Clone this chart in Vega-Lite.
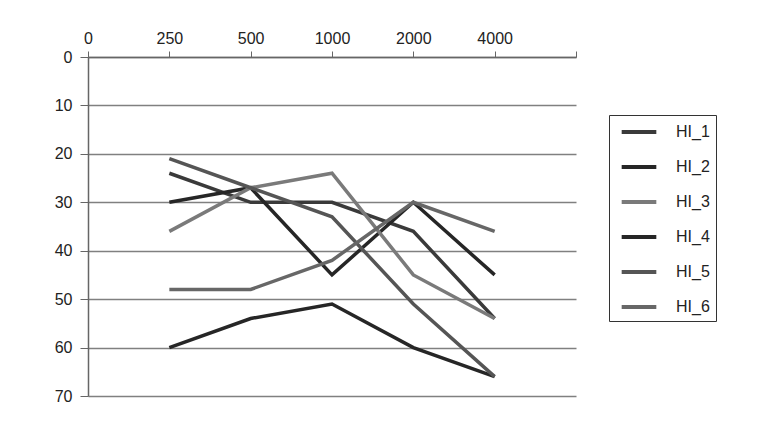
{
  "$schema": "https://vega.github.io/schema/vega-lite/v6.json",
  "width": 488,
  "height": 339,
  "autosize": "none",
  "padding": {"left": 88, "top": 57, "right": 192, "bottom": 36},
  "background": "white",
  "config": {
    "view": {"stroke": null},
    "font": "Liberation Sans",
    "axis": {"labelFont": "Liberation Sans", "labelFontSize": 16, "labelColor": "#222"}
  },
  "data": {
    "values": [
      {"s": "HI_1", "i": 1, "v": 24}, {"s": "HI_1", "i": 2, "v": 30}, {"s": "HI_1", "i": 3, "v": 30}, {"s": "HI_1", "i": 4, "v": 36}, {"s": "HI_1", "i": 5, "v": 54},
      {"s": "HI_2", "i": 1, "v": 30}, {"s": "HI_2", "i": 2, "v": 27}, {"s": "HI_2", "i": 3, "v": 45}, {"s": "HI_2", "i": 4, "v": 30}, {"s": "HI_2", "i": 5, "v": 45},
      {"s": "HI_3", "i": 1, "v": 36}, {"s": "HI_3", "i": 2, "v": 27}, {"s": "HI_3", "i": 3, "v": 24}, {"s": "HI_3", "i": 4, "v": 45}, {"s": "HI_3", "i": 5, "v": 54},
      {"s": "HI_4", "i": 1, "v": 60}, {"s": "HI_4", "i": 2, "v": 54}, {"s": "HI_4", "i": 3, "v": 51}, {"s": "HI_4", "i": 4, "v": 60}, {"s": "HI_4", "i": 5, "v": 66},
      {"s": "HI_5", "i": 1, "v": 21}, {"s": "HI_5", "i": 2, "v": 27}, {"s": "HI_5", "i": 3, "v": 33}, {"s": "HI_5", "i": 4, "v": 51}, {"s": "HI_5", "i": 5, "v": 66},
      {"s": "HI_6", "i": 1, "v": 48}, {"s": "HI_6", "i": 2, "v": 48}, {"s": "HI_6", "i": 3, "v": 42}, {"s": "HI_6", "i": 4, "v": 30}, {"s": "HI_6", "i": 5, "v": 36}
    ]
  },
  "mark": {"type": "line", "strokeWidth": 3.5, "strokeJoin": "miter"},
  "encoding": {
    "x": {
      "field": "i", "type": "quantitative",
      "scale": {"domain": [0, 6], "nice": false, "zero": false},
      "axis": {
        "orient": "top", "title": null, "values": [0, 1, 2, 3, 4, 5, 6],
        "labelExpr": "['0','250','500','1000','2000','4000',''][datum.value]",
        "grid": false, "domainColor": "#666", "domainWidth": 1.5, "tickColor": "#666", "tickSize": 6,
        "labelPadding": 5, "labelFlush": false
      }
    },
    "y": {
      "field": "v", "type": "quantitative",
      "scale": {"domain": [0, 70], "reverse": true, "nice": false},
      "axis": {
        "title": null, "values": [0, 10, 20, 30, 40, 50, 60, 70],
        "grid": true, "gridColor": "#808080", "gridWidth": 1.5,
        "domainColor": "#666", "domainWidth": 1.5, "tickColor": "#666", "tickSize": 8,
        "labelPadding": 8, "labelFlush": false
      }
    },
    "color": {
      "field": "s", "type": "nominal",
      "scale": {"domain": ["HI_1", "HI_2", "HI_3", "HI_4", "HI_5", "HI_6"], "range": ["#3a3a3a", "#262626", "#7a7a7a", "#262626", "#555555", "#676767"]},
      "legend": {
        "title": null, "orient": "none", "legendX": 521, "legendY": 58,
        "strokeColor": "#333", "padding": 6, "rowPadding": 16,
        "symbolType": "M-2,0L2,0", "symbolSize": 300, "symbolStrokeWidth": 4, "symbolOffset": 13,
        "labelFont": "Liberation Sans", "labelFontSize": 16, "labelColor": "#222", "labelOffset": 26,
        "labelExpr": "datum.label + '\u00a0\u00a0\u00a0\u00a0\u00a0\u00a0\u00a0\u00a0\u00a0\u00a0\u00a0\u00a0\u00a0\u00a0\u00a0\u00a0\u00a0\u00a0\u00a0\u00a0\u00a0\u00a0'",
        "labelLimit": 300,
        "fillColor": "white"
      }
    }
  }
}
